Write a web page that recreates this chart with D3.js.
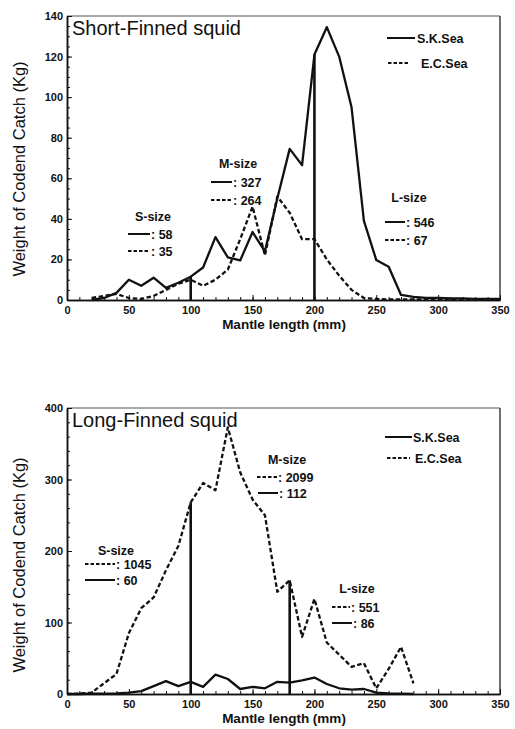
<!DOCTYPE html>
<html><head><meta charset="utf-8">
<script src="https://cdn.jsdelivr.net/npm/d3@7"></script>
<style>
body{margin:0;background:#fff;}
svg text{font-family:"Liberation Sans",Arial,Helvetica,sans-serif;fill:#111;}
</style>
</head><body>
<svg id="chart" width="515" height="729"></svg>
<script>
// ---------- DATA ----------
const sizeClasses = ["S-size", "M-size", "L-size"];
const seriesNames = ["S.K.Sea", "E.C.Sea"];

// Short-Finned squid
const shortLengths = [20,30,40,50,60,70,80,90,100,110,120,130,140,150,160,170,180,190,200,210,220,230,240,250,260,270,280,290,300,310,320,330,340,350];
const shortSK = [0,1,3.5,10,7,11,6,8.5,11.5,16,31,21,19.5,33.5,24,50,74.5,66.5,121,134.5,120,95,39,19.7,16.4,2.5,1.5,1,1,0.8,0.8,0.6,0.6,0.5];
const shortEC = [1,2,3,1,0.5,2,5,8,10,7,10,15,30,46,22,51,43,30,30,20,12,5,1,0.5,0.3,0.3,0.3,0.3,0.3,0.3,0.3,0.3,0.3,0.3];
const shortCuts = [100, 200];
const shortTotalsSK = [58, 327, 546];
const shortTotalsEC = [35, 264, 67];

// Long-Finned squid
const longLengths = [0,10,20,30,40,50,60,70,80,90,100,110,120,130,140,150,160,170,180,190,200,210,220,230,240,250,260,270,280];
const longSK = [0,0,0.5,0.5,1,2,4,11,18,11,17,10,27,21,7,10,8,17,16,19,23,14,8,6,7,2,1,0.5,0];
const longEC = [0,0.5,2,15,28,85,120,135,173,207,268,295,285,373,310,272,250,143,159,80,133,72,55,38,43,8,35,66,15];
const longCuts = [100, 180];
const longTotalsSK = [60, 112, 86];
const longTotalsEC = [1045, 2099, 551];

const xTicks = [0,50,100,150,200,250,300,350];
const shortYTicks = [0,20,40,60,80,100,120,140];
const longYTicks = [0,100,200,300,400];

// ---------- DRAW ----------
const svg = d3.select("#chart");
const DASH = "4.5,2.5";

function drawPanel(p) {
  const g = svg.append("g");
  const x = d3.scaleLinear().domain([0, 350]).range([67, 500]);
  const y = d3.scaleLinear().domain([0, p.yMax]).range([p.yBottom, p.yTop]);

  // frame (top + right)
  g.append("line").attr("x1", x(0)).attr("x2", x(350)).attr("y1", y(p.yMax)).attr("y2", y(p.yMax))
    .attr("stroke", "#555").attr("stroke-width", 1);
  g.append("line").attr("x1", x(350)).attr("x2", x(350)).attr("y1", y(p.yMax)).attr("y2", y(0))
    .attr("stroke", "#222").attr("stroke-width", 1.3);

  // x axis
  const xMinor = g.append("g").attr("transform", `translate(0,${y(0)})`)
    .call(d3.axisBottom(x).tickValues(d3.range(0, 351, 10)).tickSize(-3).tickSizeOuter(0).tickFormat(""));
  const xMajor = g.append("g").attr("transform", `translate(0,${y(0)})`)
    .call(d3.axisBottom(x).tickValues(xTicks).tickSize(-5).tickSizeOuter(0).tickPadding(6));
  // y axis
  const yMinor = g.append("g").attr("transform", `translate(${x(0)},0)`)
    .call(d3.axisLeft(y).tickValues(d3.range(0, p.yMax + 0.001, p.yMinorStep)).tickSize(-3).tickSizeOuter(0).tickFormat(""));
  const yMajor = g.append("g").attr("transform", `translate(${x(0)},0)`)
    .call(d3.axisLeft(y).tickValues(p.yTicks).tickSize(-5).tickSizeOuter(0).tickPadding(4));
  [xMinor, xMajor, yMinor, yMajor].forEach(a => {
    a.select(".domain").attr("stroke", "#111").attr("stroke-width", 1.5);
    a.selectAll(".tick line").attr("stroke", "#111").attr("stroke-width", 1);
    a.selectAll(".tick text").attr("font-size", 11).attr("font-weight", "bold")
      .attr("font-family", "'Liberation Sans', Arial, sans-serif").attr("fill", "#111");
  });

  // series
  const line = d3.line().x(d => x(d[0])).y(d => y(d[1]));
  const sk = p.lengths.map((l, i) => [l, p.sk[i]]);
  const ec = p.lengths.map((l, i) => [l, p.ec[i]]);
  g.append("path").datum(ec).attr("d", line).attr("fill", "none").attr("stroke", "#111")
    .attr("stroke-width", 2.3).attr("stroke-dasharray", DASH).attr("stroke-linejoin", "round");
  g.append("path").datum(sk).attr("d", line).attr("fill", "none").attr("stroke", "#111")
    .attr("stroke-width", 2.3).attr("stroke-linejoin", "round");

  // size-class cut lines
  p.cuts.forEach(c => {
    const i = p.lengths.indexOf(c);
    const top = Math.max(p.sk[i], p.ec[i]);
    g.append("line").attr("x1", x(c)).attr("x2", x(c)).attr("y1", y(0)).attr("y2", y(top))
      .attr("stroke", "#111").attr("stroke-width", 2.6);
  });

  // title
  g.append("text").attr("x", 72).attr("y", y(p.yMax) + 19).attr("font-size", 20).text(p.title);

  // axis titles
  g.append("text").attr("transform", `translate(25,${p.yTitleY}) rotate(-90)`)
    .attr("text-anchor", "middle").attr("font-size", 16.5).text("Weight of Codend Catch (Kg)");
  g.append("text").attr("x", 284).attr("y", y(0) + 29).attr("text-anchor", "middle")
    .attr("font-size", 13.5).attr("font-weight", "bold").text("Mantle length (mm)");

  // legend
  p.legend.forEach((lg, i) => {
    g.append("line").attr("x1", lg.x1).attr("x2", lg.x2).attr("y1", lg.y).attr("y2", lg.y)
      .attr("stroke", "#111").attr("stroke-width", 2).attr("stroke-dasharray", lg.dash ? "3.5,2" : null);
    g.append("text").attr("x", lg.tx).attr("y", lg.y + 4.5).attr("font-size", 12.5).attr("font-weight", "bold")
      .text(seriesNames[lg.series]);
  });

  // size-class annotations
  p.notes.forEach((n, k) => {
    g.append("text").attr("x", n.cx).attr("y", n.y + 4.5).attr("text-anchor", "middle")
      .attr("font-size", 12.5).attr("font-weight", "bold").text(sizeClasses[k]);
    n.rows.forEach(r => {
      g.append("line").attr("x1", r.x1).attr("x2", r.x2).attr("y1", r.y).attr("y2", r.y)
        .attr("stroke", "#111").attr("stroke-width", 2).attr("stroke-dasharray", r.dash ? "3.5,2" : null);
      const v = r.dash ? p.ec2[k] : p.sk2[k];
      g.append("text").attr("x", r.x2 + 1).attr("y", r.y + 4.5).attr("font-size", 12.5).attr("font-weight", "bold")
        .text(": " + v);
    });
  });
}

drawPanel({
  title: "Short-Finned squid",
  yMax: 140, yTop: 16, yBottom: 300, yTicks: shortYTicks, yMinorStep: 5, yTitleY: 169,
  lengths: shortLengths, sk: shortSK, ec: shortEC, cuts: shortCuts,
  sk2: shortTotalsSK, ec2: shortTotalsEC,
  legend: [
    {series: 0, dash: false, x1: 387, x2: 415, tx: 417, y: 38},
    {series: 1, dash: true, x1: 388, x2: 410, tx: 421, y: 63}
  ],
  notes: [
    {cx: 153, y: 216, rows: [{dash: false, x1: 128, x2: 150, y: 234}, {dash: true, x1: 128, x2: 150, y: 251}]},
    {cx: 238, y: 163, rows: [{dash: false, x1: 211, x2: 232, y: 182}, {dash: true, x1: 211, x2: 232, y: 200}]},
    {cx: 409, y: 197, rows: [{dash: false, x1: 385, x2: 405, y: 222}, {dash: true, x1: 385, x2: 405, y: 240}]}
  ]
});

drawPanel({
  title: "Long-Finned squid",
  yMax: 400, yTop: 408, yBottom: 694, yTicks: longYTicks, yMinorStep: 20, yTitleY: 565,
  lengths: longLengths, sk: longSK, ec: longEC, cuts: longCuts,
  sk2: longTotalsSK, ec2: longTotalsEC,
  legend: [
    {series: 0, dash: false, x1: 385, x2: 412, tx: 413, y: 437},
    {series: 1, dash: true, x1: 387, x2: 410, tx: 415, y: 458}
  ],
  notes: [
    {cx: 116, y: 550, rows: [{dash: true, x1: 85, x2: 115, y: 564}, {dash: false, x1: 85, x2: 115, y: 580}]},
    {cx: 287, y: 459, rows: [{dash: true, x1: 257, x2: 277, y: 477}, {dash: false, x1: 258, x2: 278, y: 493}]},
    {cx: 357, y: 588, rows: [{dash: true, x1: 332, x2: 350, y: 607}, {dash: false, x1: 332, x2: 352, y: 623}]}
  ]
});
</script>
</body></html>
